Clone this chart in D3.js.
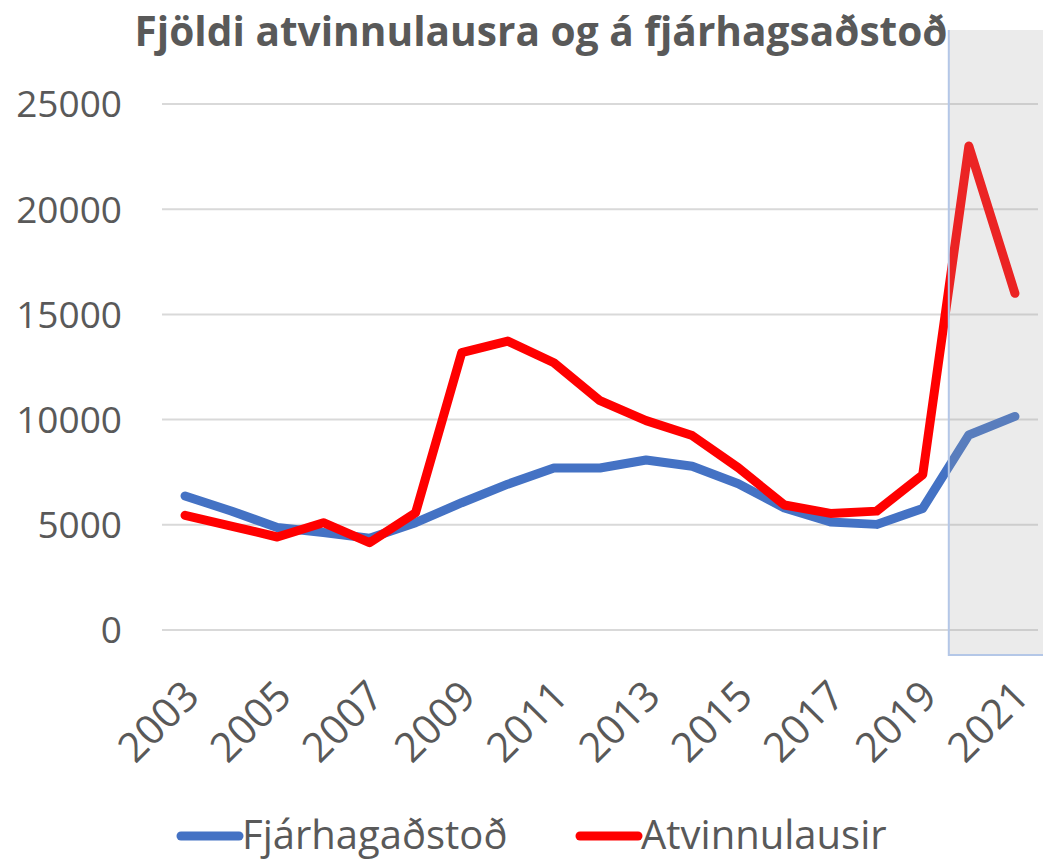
<!DOCTYPE html>
<html>
<head>
<meta charset="utf-8">
<script src="https://cdn.jsdelivr.net/npm/d3@7"></script>
<style>
  body { margin: 0; background: #fff; }
  text { font-family: "Open Sans", sans-serif; fill: #595959; }
</style>
</head>
<body>
<div id="chart"></div>
<script>
var years = ["2003", "2004", "2005", "2006", "2007", "2008", "2009", "2010", "2011", "2012",
  "2013", "2014", "2015", "2016", "2017", "2018", "2019", "2020", "2021"];
var fjarhagsadstod = [6370, 5660, 4870, 4630, 4360, 5100, 6050, 6930, 7700, 7700,
  8080, 7780, 6950, 5800, 5130, 5020, 5780, 9270, 10150];
var atvinnulausir = [5450, 4940, 4420, 5100, 4150, 5570, 13180, 13730, 12700, 10900,
  9950, 9240, 7710, 5940, 5540, 5650, 7380, 23000, 16000];
var yTicks = [0, 5000, 10000, 15000, 20000, 25000];
var xLabels = ["2003", "2005", "2007", "2009", "2011", "2013", "2015", "2017", "2019", "2021"];
var seriesNames = ["Fjárhagaðstoð", "Atvinnulausir"];
var title = "Fjöldi atvinnulausra og á fjárhagsaðstoð";

var width = 1043, height = 862;
var plot = { left: 162, right: 1038, top: 104, bottom: 630 };

var svg = d3.select("#chart")
  .append("svg")
  .attr("width", width)
  .attr("height", height);

var x = d3.scaleBand()
  .domain(years)
  .range([plot.left, plot.right]);

var y = d3.scaleLinear()
  .domain([0, 25000])
  .range([plot.bottom, plot.top]);

function cx(d) {
  return x(d) + x.bandwidth() / 2;
}

// title
svg.append("text")
  .attr("x", 541)
  .attr("y", 46)
  .attr("text-anchor", "middle")
  .style("font-size", "42px")
  .style("font-weight", "bold")
  .attr("textLength", 813)
  .attr("lengthAdjust", "spacingAndGlyphs")
  .text(title);

// gridlines
svg.append("g")
  .selectAll("line")
  .data(yTicks)
  .enter().append("line")
  .attr("x1", plot.left)
  .attr("x2", plot.right)
  .attr("y1", function (d) { return y(d); })
  .attr("y2", function (d) { return y(d); })
  .attr("stroke", "#d9d9d9")
  .attr("stroke-width", 2);

// y axis labels
svg.append("g")
  .selectAll("text")
  .data(yTicks)
  .enter().append("text")
  .attr("x", 122)
  .attr("y", function (d) { return y(d); })
  .attr("dy", "0.36em")
  .attr("text-anchor", "end")
  .style("font-size", "37px")
  .text(function (d) { return d; });

// x axis labels
svg.append("g")
  .selectAll("text")
  .data(xLabels)
  .enter().append("text")
  .attr("transform", function (d) {
    return "translate(" + (cx(d) + 6) + ",688) rotate(-45)";
  })
  .attr("dy", "0.36em")
  .attr("text-anchor", "end")
  .style("font-size", "41px")
  .text(function (d) { return d; });

// lines
var colors = ["#4472c4", "#ff0000"];
var allSeries = [fjarhagsadstod, atvinnulausir];

var line = d3.line()
  .x(function (d, i) { return cx(years[i]); })
  .y(function (d) { return y(d); });

svg.append("g")
  .selectAll("path")
  .data(allSeries)
  .enter().append("path")
  .attr("d", function (d) { return line(d); })
  .attr("fill", "none")
  .attr("stroke", function (d, i) { return colors[i]; })
  .attr("stroke-width", 9)
  .attr("stroke-linecap", "round")
  .attr("stroke-linejoin", "round");

// shaded box over the last years
var shadeX = (cx("2019") + cx("2020")) / 2 + 3;
svg.append("rect")
  .attr("x", shadeX)
  .attr("y", 30)
  .attr("width", width - shadeX)
  .attr("height", 625)
  .attr("fill", "rgb(164,164,164)")
  .attr("fill-opacity", 0.22);

svg.append("path")
  .attr("d", "M" + shadeX + ",30V655H" + width)
  .attr("fill", "none")
  .attr("stroke", "#b4c7e7")
  .attr("stroke-width", 2);

// legend
var legendX = [181, 580];
var legend = svg.append("g")
  .selectAll("g")
  .data(seriesNames)
  .enter().append("g")
  .attr("transform", function (d, i) {
    return "translate(" + legendX[i] + ",836)";
  });

legend.append("line")
  .attr("x1", 0)
  .attr("x2", 58)
  .attr("stroke", function (d, i) { return colors[i]; })
  .attr("stroke-width", 9)
  .attr("stroke-linecap", "round");

legend.append("text")
  .attr("x", 61)
  .attr("y", 13)
  .style("font-size", "40px")
  .text(function (d) { return d; });
</script>
</body>
</html>
